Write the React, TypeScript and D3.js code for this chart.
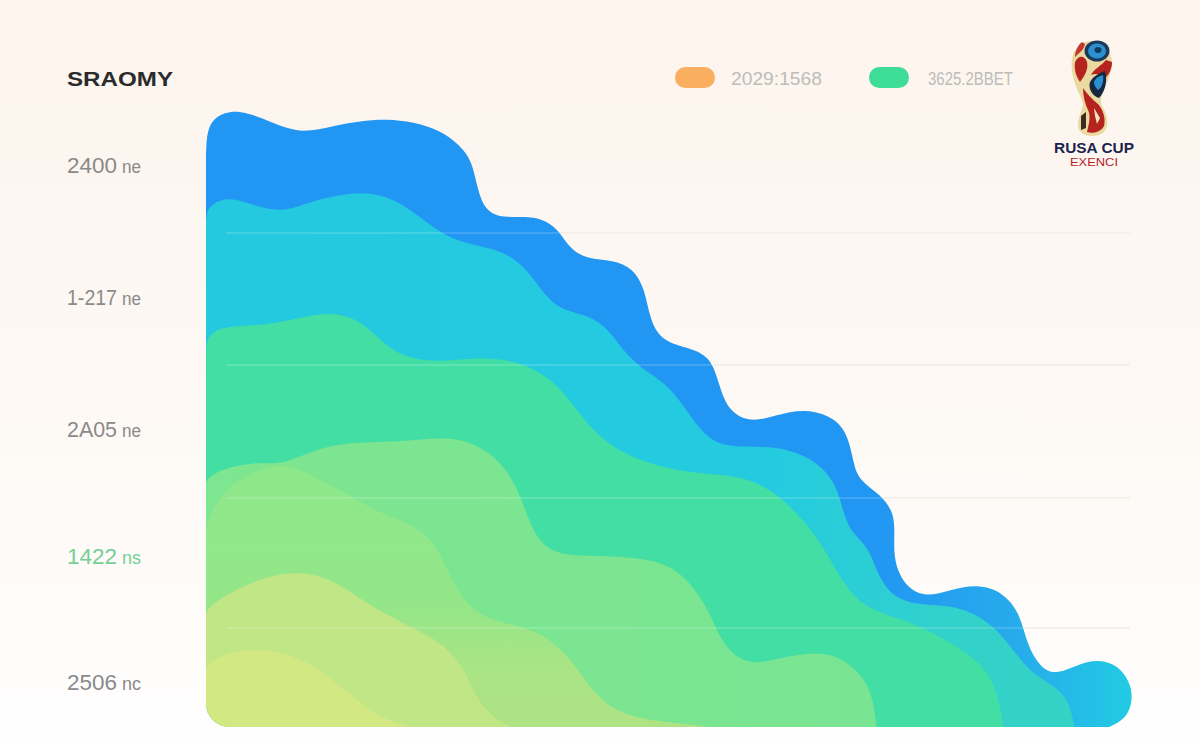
import React from "react";
import * as d3 from "d3";

type P = [number, number];

const titleText = "SRAOMY";
const logoTitle = "RUSA CUP";
const logoSub = "EXENCI";
const legendLabels = ["2029:1568", "3625.2BBET"];
const tickNumbers = ["2400", "1-217", "2A05", "1422", "2506"];
const tickUnits = ["ne", "ne", "ne", "ns", "nc"];
const tickValues = [554, 422, 290, 163, 37];
const gridValues = [494, 362, 229, 99];

const blueSeries: P[] = [[0,560],[0,587],[4,606],[19,615],[34,616],[54,610],[81,598],[101,595],[127,601],[154,606],[181,608],[207,605],[234,597],[254,582],[266,566],[271,540],[279,516],[297,509],[324,511],[341,506],[354,495],[364,478],[381,468],[407,467],[427,459],[439,438],[444,406],[457,385],[484,379],[504,370],[512,347],[521,317],[544,304],[571,312],[597,318],[624,312],[641,296],[647,267],[652,247],[674,233],[687,216],[689,197],[687,165],[701,138],[721,130],[744,137],[771,143],[797,135],[814,114],[821,82],[834,60],[849,52],[871,62],[891,68],[912,62],[924,45],[927,28],[921,8],[899,-2]];
const cyanSeries: P[] = [[0,500],[0,514],[6,524],[24,530],[44,523],[74,514],[101,524],[127,531],[154,535],[181,531],[207,516],[234,494],[257,484],[287,479],[314,466],[331,443],[351,417],[384,412],[404,396],[421,371],[441,355],[464,340],[481,316],[497,293],[517,280],[551,281],[584,278],[611,265],[629,245],[636,220],[644,195],[662,181],[670,157],[684,131],[711,122],[741,122],[767,115],[791,98],[807,77],[827,52],[851,40],[864,24],[869,-4]];
const greenSeries: P[] = [[0,370],[0,385],[7,397],[27,401],[61,402],[94,409],[117,414],[141,412],[161,401],[184,377],[207,368],[234,365],[277,370],[311,366],[341,351],[361,331],[384,299],[411,276],[447,262],[484,254],[524,252],[551,245],[577,229],[611,192],[634,149],[654,122],[687,110],[714,101],[744,85],[774,65],[791,40],[798,-4]];
const mintSeries: P[] = [[0,240],[0,249],[21,260],[54,265],[74,262],[104,275],[137,285],[194,285],[237,290],[261,286],[284,275],[304,253],[316,227],[327,195],[341,178],[361,171],[407,171],[441,168],[467,160],[487,141],[504,114],[514,88],[531,68],[551,63],[574,69],[607,75],[634,71],[657,51],[667,30],[671,-4]];
const limeSeries: P[] = [[0,190],[0,204],[14,232],[37,251],[71,264],[94,258],[127,240],[154,226],[171,215],[201,205],[224,190],[237,167],[251,136],[271,113],[294,105],[327,97],[344,87],[364,69],[381,43],[404,18],[437,7],[491,2],[524,-3]];
const pearSeries: P[] = [[0,110],[0,119],[27,136],[61,151],[91,155],[117,151],[144,136],[171,117],[207,99],[234,85],[254,65],[264,44],[274,23],[294,4],[314,-3]];
const lemonSeries: P[] = [[0,55],[0,62],[17,73],[44,78],[74,76],[104,64],[127,47],[151,27],[174,9],[201,1],[214,-3]];

const x = d3.scaleLinear().domain([0, 925]).range([206, 1131]);
const y = d3.scaleLinear().domain([0, 613]).range([727, 114]);

const line = d3
  .line<P>()
  .x((d) => x(d[0]))
  .y((d) => y(d[1]))
  .curve(d3.curveBasis);

const shape = (pts: P[]) =>
  `${line(pts)}L${x(pts[pts.length - 1][0])},${y(-5)}L${x(0)},${y(-5)}Z`;

const layers: [P[], string][] = [
  [blueSeries, "url(#gBlue)"],
  [cyanSeries, "url(#gCyan)"],
  [greenSeries, "#43dea4"],
  [mintSeries, "url(#gMint)"],
  [limeSeries, "url(#gLime)"],
  [pearSeries, "#c0e686"],
  [lemonSeries, "#d2e983"],
];

const legendItems = [
  { px: 675, tx: 731, tw: 91, color: "#f9ae60" },
  { px: 869, tx: 928, tw: 85, color: "#3ddc97" },
];

const sans = "'Liberation Sans', Arial, sans-serif";

export default function App() {
  return (
    <svg
      width={1200}
      height={750}
      viewBox="0 0 1200 750"
      style={{ position: "absolute", left: 0, top: 0, display: "block" }}
    >
      <defs>
        <linearGradient id="bg" x1="0" y1="0" x2="0" y2="1">
          <stop offset="0" stopColor="#fdf4ed" />
          <stop offset="0.45" stopColor="#fdf8f3" />
          <stop offset="0.8" stopColor="#fefbf9" />
          <stop offset="1" stopColor="#ffffff" />
        </linearGradient>
        <linearGradient id="gBlue" gradientUnits="userSpaceOnUse" x1="206" y1="0" x2="1131" y2="0">
          <stop offset="0" stopColor="#2196f3" />
          <stop offset="0.72" stopColor="#2196f3" />
          <stop offset="0.88" stopColor="#27aceb" />
          <stop offset="1" stopColor="#22cbe3" />
        </linearGradient>
        <linearGradient id="gCyan" gradientUnits="userSpaceOnUse" x1="206" y1="0" x2="1075" y2="0">
          <stop offset="0" stopColor="#24c8df" />
          <stop offset="0.65" stopColor="#24cbe0" />
          <stop offset="0.85" stopColor="#32d1cb" />
          <stop offset="1" stopColor="#35d3c4" />
        </linearGradient>
        <linearGradient id="gMint" gradientUnits="userSpaceOnUse" x1="206" y1="0" x2="876" y2="0">
          <stop offset="0" stopColor="#7ee590" />
          <stop offset="1" stopColor="#79e592" />
        </linearGradient>
        <linearGradient id="gLime" gradientUnits="userSpaceOnUse" x1="0" y1="465" x2="0" y2="727">
          <stop offset="0" stopColor="#8de88a" />
          <stop offset="0.55" stopColor="#94e688" />
          <stop offset="0.75" stopColor="#a8e485" />
          <stop offset="1" stopColor="#aee384" />
        </linearGradient>
        <clipPath id="plot">
          <rect x={x(0)} y={y(613) - 10} width={x(925) - x(0) + 2} height={y(0) - y(613) + 10} rx={24} />
        </clipPath>
        <clipPath id="top">
          <path d={shape(blueSeries)} />
        </clipPath>
      </defs>

      <rect width={1200} height={750} fill="url(#bg)" />

      {gridValues.map((g) => (
        <line key={g} x1={227} x2={1130} y1={y(g)} y2={y(g)} stroke="#f2ece6" strokeWidth={1.5} />
      ))}

      <g clipPath="url(#plot)">
        {layers.map(([pts, fill], i) => (
          <path key={i} d={shape(pts)} fill={fill} />
        ))}
      </g>

      <g clipPath="url(#top)">
        {gridValues.map((g) => (
          <line key={g} x1={227} x2={1130} y1={y(g)} y2={y(g)} stroke="#ffffff" strokeOpacity={0.2} strokeWidth={1.5} />
        ))}
      </g>

      <text x={67} y={86} fontFamily={sans} fontWeight={700} fontSize={21} fill="#2b2b2b" textLength={106} lengthAdjust="spacingAndGlyphs">
        {titleText}
      </text>

      {tickNumbers.map((t, i) => {
        const color = i === 3 ? "#74cf96" : "#8a8a8a";
        const by = y(tickValues[i]);
        return (
          <g key={i} fontFamily={sans} fill={color}>
            <text x={67} y={by} fontSize={22} textLength={50} lengthAdjust="spacingAndGlyphs">
              {t}
            </text>
            <text x={122} y={by} fontSize={18} textLength={19} lengthAdjust="spacingAndGlyphs">
              {tickUnits[i]}
            </text>
          </g>
        );
      })}

      {legendItems.map((l, i) => (
        <g key={i}>
          <rect x={l.px} y={67} width={40} height={21} rx={10.5} fill={l.color} />
          <text x={l.tx} y={85} fontFamily={sans} fontSize={19} fill="#bdbdb9" textLength={l.tw} lengthAdjust="spacingAndGlyphs">
            {legendLabels[i]}
          </text>
        </g>
      ))}

      <g>
        <path
          d="M1092,41 C1104,41 1113,52 1112,65 C1111,76 1106,84 1103,92 C1101,98 1100,101 1102,106 C1106,113 1108,119 1107,125 C1106,132 1101,136 1092,136 C1084,136 1078,132 1078,125 C1078,118 1082,111 1083,104 C1082,97 1076,90 1074,80 C1071,70 1071,62 1073,55 C1076,46 1084,41 1092,41 Z"
          fill="#ead9a0"
        />
        <path d="M1075,62 C1079,54 1085,56 1087,62 C1089,70 1083,78 1080,82 C1076,76 1074,70 1075,62 Z" fill="#b5231f" />
        <path d="M1082,42 C1077,46 1075,52 1075,57 C1080,52 1084,50 1085,44 Z" fill="#c0392b" />
        <path d="M1106,60 L1112,62 C1112,70 1108,76 1105,78 C1100,74 1096,73 1091,75 C1095,68 1101,66 1106,60 Z" fill="#b5231f" />
        <ellipse cx={1097} cy={51} rx={12.5} ry={10.5} fill="#1b3a5c" />
        <ellipse cx={1097} cy={51} rx={9} ry={7.5} fill="#2a90cf" />
        <ellipse cx={1098} cy={50} rx={3.5} ry={3} fill="#123a5c" />
        <path d="M1105,71 C1108,80 1105,92 1099,98 C1092,96 1088,88 1090,82 C1093,76 1100,73 1105,71 Z" fill="#16283f" />
        <path d="M1103,75 C1104,81 1102,88 1098,90 C1094,86 1093,82 1095,80 C1097,77 1100,76 1103,75 Z" fill="#2a8fd0" />
        <path d="M1083,88 C1087,94 1093,100 1098,104 C1103,110 1106,118 1104,126 C1101,132 1093,134 1087,132 C1089,124 1091,116 1088,110 C1085,104 1083,96 1083,88 Z" fill="#b5231f" />
        <path d="M1094,108 L1100,118 L1097,124 L1095,116 Z" fill="#f3e5c5" />
        <path d="M1081,116 L1086,112 L1086,128 L1081,130 Z" fill="#3a2a20" />
      </g>
      <text x={1094} y={153} textAnchor="middle" fontFamily={sans} fontSize={15.5} fontWeight={700} fill="#1c2450" textLength={80} lengthAdjust="spacingAndGlyphs">
        {logoTitle}
      </text>
      <text x={1094} y={166} textAnchor="middle" fontFamily={sans} fontSize={11} fill="#b5232c" textLength={48} lengthAdjust="spacingAndGlyphs">
        {logoSub}
      </text>
    </svg>
  );
}
